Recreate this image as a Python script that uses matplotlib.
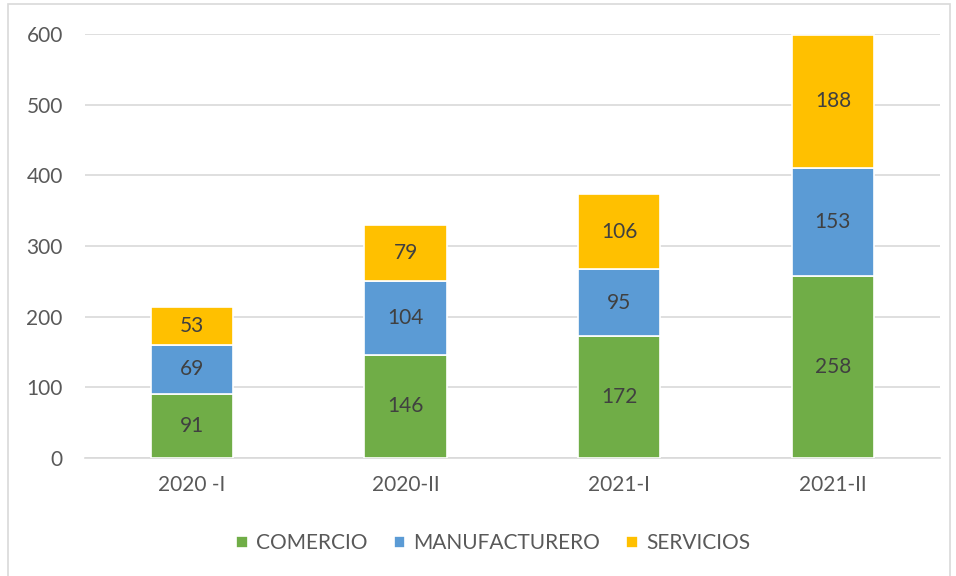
import matplotlib
matplotlib.use("Agg")
import matplotlib.pyplot as plt
from matplotlib.patches import Rectangle
import numpy as np

periods = ["2020 -I", "2020-II", "2021-I", "2021-II"]
comercio = [91, 146, 172, 258]
manufacturero = [69, 104, 95, 153]
servicios = [53, 79, 106, 188]

series = [("COMERCIO", comercio, "#70AD47"),
          ("MANUFACTURERO", manufacturero, "#5B9BD5"),
          ("SERVICIOS", servicios, "#FFC000")]

plt.rcParams["font.family"] = ["Lato", "DejaVu Sans"]
text_color = "#595959"

fig = plt.figure(figsize=(9.56, 5.76), dpi=100)
ax = fig.add_axes([0.089, 0.205, 0.894, 0.736])

# chart frame
fig.patches.append(Rectangle((8 / 956, -0.01), 942 / 956, 1 - 4 / 576 + 0.01,
                             transform=fig.transFigure, fill=False,
                             edgecolor="#D9D9D9", linewidth=1.2))

x = np.arange(len(periods))
bottom = np.zeros(len(periods))
for name, vals, color in series:
    bars = ax.bar(x, vals, width=0.385, bottom=bottom, color=color,
                  edgecolor="white", linewidth=1.2, label=name, zorder=3)
    ax.bar_label(bars, labels=[str(v) for v in vals], label_type="center",
                 fontsize=15, color="#404040")
    bottom += np.array(vals)

ax.set_xlim(-0.5, len(periods) - 0.5)
ax.set_ylim(0, 600)
ax.set_yticks(range(0, 601, 100))
ax.set_xticks(x)
ax.set_xticklabels(periods)
ax.yaxis.grid(True, color="#D9D9D9", linewidth=1.2, zorder=0)
ax.tick_params(axis="both", length=0, labelsize=15, colors=text_color)
ax.tick_params(axis="y", pad=16)
ax.tick_params(axis="x", pad=12)
for side in ["top", "right", "left"]:
    ax.spines[side].set_visible(False)
ax.spines["bottom"].set_color("#D9D9D9")
ax.spines["bottom"].set_linewidth(1.2)

fig.legend(loc="center", bbox_to_anchor=(0.516, 0.057), ncol=3, frameon=False,
           fontsize=15, labelcolor=text_color, handlelength=0.55, handleheight=0.55,
           handletextpad=0.4, columnspacing=1.25)

fig.savefig("out.png", dpi=100)
